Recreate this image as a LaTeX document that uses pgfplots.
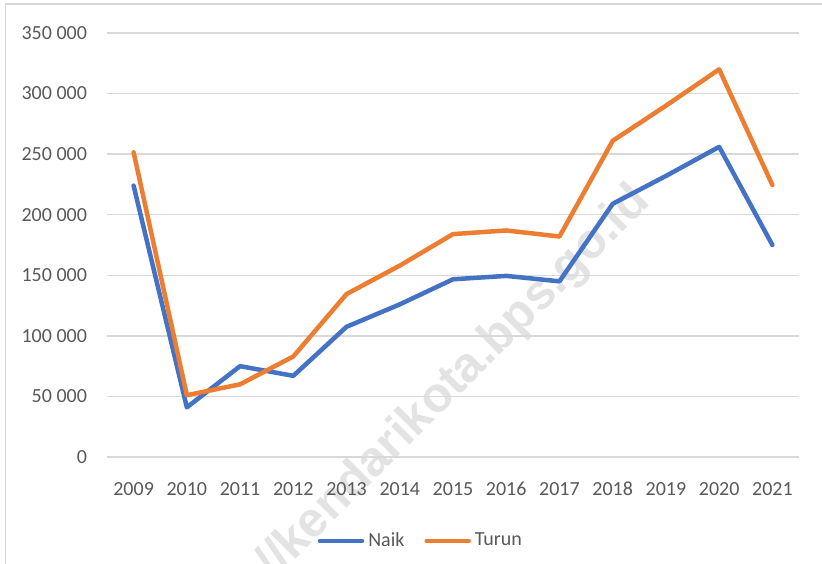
\documentclass[border=0pt]{standalone}
\usepackage{fontspec}
\setmainfont{Carlito}
\newfontfamily\wmfont{Liberation Sans}
\usepackage{pgfplots}
\pgfplotsset{compat=1.18}
\definecolor{cblue}{HTML}{4472C4}
\definecolor{corange}{HTML}{ED7D31}
\definecolor{cgrid}{HTML}{D9D9D9}
\definecolor{ctext}{HTML}{595959}
\begin{document}
\begin{tikzpicture}
\useasboundingbox (0,0) rectangle (411pt,281.5pt);
\fill[white] (0,0) rectangle (411pt,281.5pt);
\draw[cgrid, line width=0.9pt] (2.75pt,-5pt) -- (2.75pt,279.5pt) -- (420pt,279.5pt);
\node[rotate=45, anchor=base east, text=black!11, font=\wmfont\bfseries\fontsize{24.5}{28}\selectfont, inner sep=0pt] at (326pt,180pt) {https://kendarikota.bps.go.id};
\begin{axis}[
  at={(53.5pt,53pt)}, anchor=south west,
  scale only axis, width=346pt, height=212pt,
  xmin=2008.5, xmax=2021.5, ymin=0, ymax=350000,
  xtick={2009,2010,2011,2012,2013,2014,2015,2016,2017,2018,2019,2020,2021},
  xticklabels={2009,2010,2011,2012,2013,2014,2015,2016,2017,2018,2019,2020,2021},
  ytick={0,50000,100000,150000,200000,250000,300000,350000},
  yticklabels={0,50 000,100 000,150 000,200 000,250 000,300 000,350 000},
  xticklabel style={yshift=-9pt},
  yticklabel style={xshift=-6.5pt},
  scaled y ticks=false,
  ticklabel style={font=\fontsize{10}{12}\selectfont, text=ctext},
  axis line style={draw=none},
  major tick style={draw=none},
  ymajorgrids, major grid style={cgrid, line width=0.65pt},
  legend style={draw=none, fill=none, at={(0.455,-0.198)}, anchor=center,
    legend columns=2, font=\fontsize{10}{12}\selectfont, text=ctext,
    /tikz/every even column/.append style={column sep=8pt}},
  legend image code/.code={\draw[#1, line cap=round] (0pt,0pt) -- (21pt,0pt);},
  every axis plot/.append style={line width=2.25pt, line join=round, line cap=round},
]
\addplot[cblue] coordinates {
(2009,224000) (2010,41000) (2011,75000) (2012,67000) (2013,107500) (2014,126000)
(2015,146700) (2016,149500) (2017,145000) (2018,209000) (2019,232000) (2020,256000) (2021,175000)};
\addlegendentry{Naik}
\addplot[corange] coordinates {
(2009,251500) (2010,51000) (2011,60000) (2012,83000) (2013,134500) (2014,158000)
(2015,184000) (2016,187000) (2017,182000) (2018,261000) (2019,290000) (2020,320000) (2021,224500)};
\addlegendentry{Turun}
\end{axis}
\end{tikzpicture}
\end{document}
